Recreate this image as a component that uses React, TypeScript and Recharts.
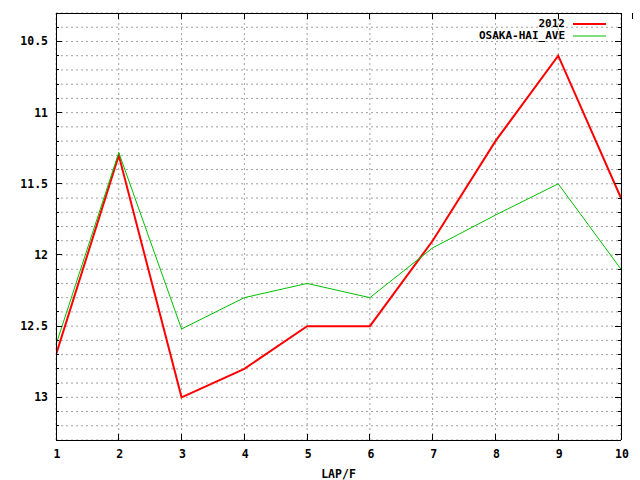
import { LineChart, Line, XAxis, YAxis, CartesianGrid, Legend } from "recharts"

const laps = [1, 2, 3, 4, 5, 6, 7, 8, 9, 10]
const times2012 = [12.7, 11.3, 13.0, 12.8, 12.5, 12.5, 11.9, 11.2, 10.6, 11.6]
const osakaHaiAve = [12.63, 11.28, 12.52, 12.3, 12.2, 12.3, 11.95, 11.72, 11.5, 12.1]

const xDomain = [1, 10]
const yDomain = [10.3, 13.3]
const xTicks = [1, 2, 3, 4, 5, 6, 7, 8, 9, 10]
const yTicks = [
  10.3, 10.4, 10.5, 10.6, 10.7, 10.8, 10.9, 11, 11.1, 11.2, 11.3, 11.4, 11.5, 11.6, 11.7,
  11.8, 11.9, 12, 12.1, 12.2, 12.3, 12.4, 12.5, 12.6, 12.7, 12.8, 12.9, 13, 13.1, 13.2, 13.3,
]
const yLabels = [10.5, 11, 11.5, 12, 12.5, 13]

const series = [
  { key: "y2012", name: "2012", color: "#ff0000", width: 2 },
  { key: "osaka", name: "OSAKA-HAI_AVE", color: "#00c000", width: 1 },
]

const data = laps.map((lap, i) => ({
  lap,
  y2012: times2012[i],
  osaka: osakaHaiAve[i],
}))

const FONT = "'DejaVu Sans Mono', 'Liberation Mono', monospace"
const textStyle = { fontFamily: FONT, fontWeight: 700, fontSize: 11.5, fill: "#000" }
const crisp = { shapeRendering: "crispEdges" } as const

// grid lines at every tick, mapped over the plot box (reversed y: 10.3 at the top)
function gridRows({ offset }: any) {
  const [lo, hi] = yDomain
  return yTicks.map((v) => offset.top + ((v - lo) / (hi - lo)) * offset.height)
}

function gridCols({ offset }: any) {
  const [lo, hi] = xDomain
  return xTicks.map((v) => offset.left + ((v - lo) / (hi - lo)) * offset.width)
}

// tickSize/tickMargin are 0, so the x/y handed to the tick sits on the plot edge
function LeftTick(props: any) {
  const { x, y, payload } = props
  const major = yLabels.includes(payload.value)
  return (
    <g>
      <line x1={x} x2={x + (major ? 6 : 3)} y1={y} y2={y} stroke="#000" {...crisp} />
      {major && (
        <text x={x - 8} y={y + 4} textAnchor="end" {...textStyle}>
          {payload.value}
        </text>
      )}
    </g>
  )
}

function RightTick(props: any) {
  const { x, y, payload } = props
  const major = yLabels.includes(payload.value)
  return <line x1={x} x2={x - (major ? 6 : 3)} y1={y} y2={y} stroke="#000" {...crisp} />
}

function BottomTick(props: any) {
  const { x, y, payload } = props
  return (
    <g>
      <line x1={x} x2={x} y1={y} y2={y - 6} stroke="#000" {...crisp} />
      <text x={x + 1} y={y + 18} textAnchor="middle" {...textStyle}>
        {payload.value}
      </text>
    </g>
  )
}

function TopTick(props: any) {
  const { x, y } = props
  return <line x1={x} x2={x} y1={y} y2={y + 6} stroke="#000" {...crisp} />
}

function KeyBox() {
  return (
    <div style={{ fontFamily: FONT, fontWeight: 700, fontSize: 11, color: "#000" }}>
      {series.map((s) => (
        <div
          key={s.key}
          style={{ display: "flex", justifyContent: "flex-end", alignItems: "center", height: 12, lineHeight: "12px" }}
        >
          <span>{s.name}</span>
          <svg width={41} height={12} style={{ display: "block" }}>
            <line x1={8} x2={41} y1={6} y2={6} stroke={s.color} strokeWidth={s.width} />
          </svg>
        </div>
      ))}
    </div>
  )
}

export default function App() {
  return (
    <div style={{ position: "absolute", left: 0, top: 0, background: "#fff" }}>
      <LineChart width={640} height={480} data={data} margin={{ top: 0, right: 0, bottom: 0, left: 0 }}>
        <CartesianGrid
          stroke="#a0a0a0"
          strokeDasharray="2 3"
          horizontal={crisp}
          vertical={crisp}
          horizontalCoordinatesGenerator={gridRows}
          verticalCoordinatesGenerator={gridCols}
        />
        <XAxis
          dataKey="lap"
          type="number"
          domain={xDomain}
          ticks={xTicks}
          allowDataOverflow
          height={40}
          tickSize={0}
          tickMargin={0}
          tick={<BottomTick />}
          axisLine={{ stroke: "#000", ...crisp }}
          label={{ value: "LAP/F", position: "insideBottom", offset: 2, style: textStyle }}
        />
        <XAxis
          xAxisId="top"
          orientation="top"
          type="number"
          domain={xDomain}
          ticks={xTicks}
          allowDataOverflow
          height={13}
          tickSize={0}
          tickMargin={0}
          tick={<TopTick />}
          axisLine={{ stroke: "#000", ...crisp }}
        />
        <YAxis
          type="number"
          domain={yDomain}
          ticks={yTicks}
          reversed
          allowDataOverflow
          interval={0}
          width={56}
          tickSize={0}
          tickMargin={0}
          tick={<LeftTick />}
          axisLine={{ stroke: "#000", ...crisp }}
        />
        <YAxis
          yAxisId="right"
          orientation="right"
          type="number"
          domain={yDomain}
          ticks={yTicks}
          reversed
          allowDataOverflow
          interval={0}
          width={19}
          tickSize={0}
          tickMargin={0}
          tick={<RightTick />}
          axisLine={{ stroke: "#000", ...crisp }}
        />
        <Legend
          layout="horizontal"
          align="center"
          verticalAlign="middle"
          wrapperStyle={{ top: 18, right: 34, width: "auto" }}
          content={<KeyBox />}
        />
        {series.map((s) => (
          <Line
            key={s.key}
            type="linear"
            dataKey={s.key}
            name={s.name}
            stroke={s.color}
            strokeWidth={s.width}
            dot={false}
            activeDot={false}
            isAnimationActive={false}
          />
        ))}
      </LineChart>
    </div>
  )
}
